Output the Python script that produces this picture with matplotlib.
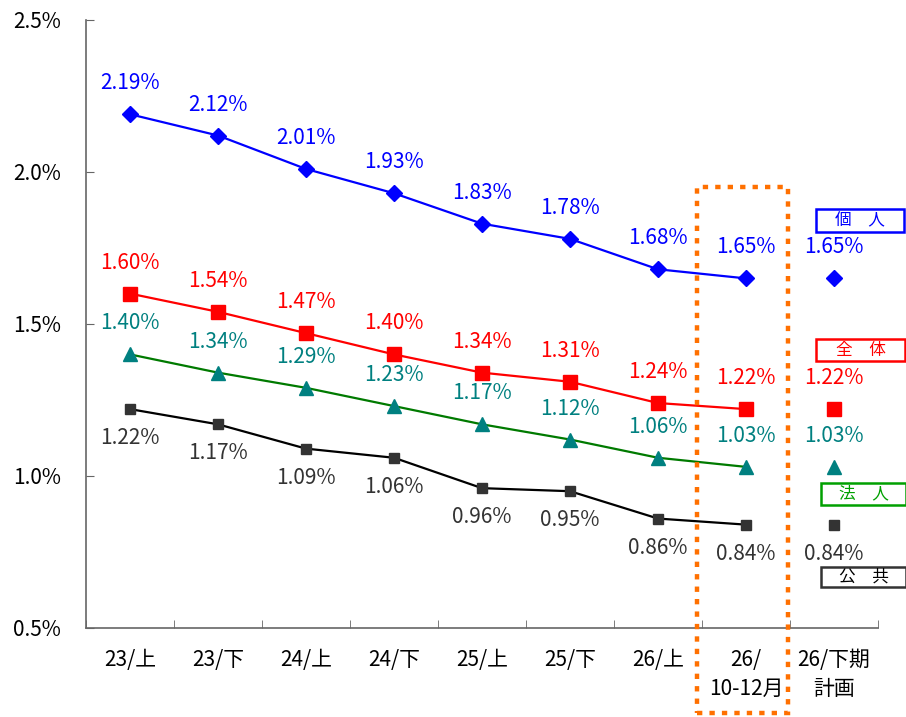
import matplotlib
matplotlib.use("Agg")
import matplotlib.pyplot as plt
from matplotlib.patches import Rectangle
from matplotlib.ticker import FixedLocator

plt.rcParams['font.family'] = ['Noto Sans CJK JP', 'DejaVu Sans']

categories = ["23/上", "23/下", "24/上", "24/下", "25/上", "25/下", "26/上",
              "26/\n10-12月", "26/下期\n計画"]
kojin = [2.19, 2.12, 2.01, 1.93, 1.83, 1.78, 1.68, 1.65]
zentai = [1.60, 1.54, 1.47, 1.40, 1.34, 1.31, 1.24, 1.22]
hojin = [1.40, 1.34, 1.29, 1.23, 1.17, 1.12, 1.06, 1.03]
kokyo = [1.22, 1.17, 1.09, 1.06, 0.96, 0.95, 0.86, 0.84]
plan = {"kojin": 1.65, "zentai": 1.22, "hojin": 1.03, "kokyo": 0.84}
yticks = [0.5, 1.0, 1.5, 2.0, 2.5]

W, H = 906, 717
fig = plt.figure(figsize=(W / 100, H / 100), dpi=100)
ax = fig.add_axes([86 / W, 1 - 628 / H, (878 - 86) / W, (628 - 20) / H])

n = len(categories)
xs = list(range(len(kojin)))
xp = n - 1

series = [
    # values, plan, line color, marker, marker color, size, label color, offset (px)
    (kojin, plan["kojin"], "#0000FF", "D", "#0000FF", 8, "#0000FF", 31),
    (zentai, plan["zentai"], "#FF0000", "s", "#FF0000", 10, "#FF0000", 31),
    (hojin, plan["hojin"], "#007A00", "^", "#008080", 10, "#008080", 31),
    (kokyo, plan["kokyo"], "#000000", "s", "#333333", 6.5, "#333333", -29),
]

for vals, pv, lc, mk, mc, ms, tc, off in series:
    ax.plot(xs, vals, color=lc, lw=1.6, marker=mk, markersize=ms,
            markerfacecolor=mc, markeredgecolor=mc, clip_on=False, zorder=3)
    ax.plot([xp], [pv], linestyle="none", marker=mk, markersize=ms,
            markerfacecolor=mc, markeredgecolor=mc, clip_on=False, zorder=3)
    for x, v in list(zip(xs, vals)) + [(xp, pv)]:
        ax.annotate(f"{v:.2f}%", (x, v), xytext=(0, off * 0.72),
                    textcoords="offset points", ha="center", va="center",
                    color=tc, fontsize=15)

ax.set_xlim(-0.5, n - 0.5)
ax.set_ylim(0.5, 2.5)
ax.set_yticks(yticks)
ax.set_yticklabels([f"{t:.1f}%" for t in yticks], fontsize=15)
ax.set_xticks(range(n))
ax.set_xticklabels(categories, fontsize=15, linespacing=1.4, va="top")
ax.xaxis.set_minor_locator(FixedLocator([i + 0.5 for i in range(-1, n)]))
ax.tick_params(axis="x", which="major", length=0, pad=15)
ax.tick_params(axis="x", which="minor", direction="in", length=6, color="#666666")
ax.tick_params(axis="y", direction="in", length=6, color="#666666", pad=18)
for s in ("top", "right"):
    ax.spines[s].set_visible(False)
for s in ("left", "bottom"):
    ax.spines[s].set_color("#666666")
    ax.spines[s].set_linewidth(1.2)

# Highlight frame around the latest quarter
fig.add_artist(Rectangle((697 / W, 1 - 713 / H), (788 - 697) / W, (713 - 187) / H,
                         transform=fig.transFigure, fill=False,
                         edgecolor="#FF7000", lw=3.2, linestyle=(0, (1.2, 1.6)),
                         capstyle="butt", zorder=5))

# Series name boxes
boxes = [
    ("個　人", "#0000FF", "#0000FF", 816, 209, 904, 232),
    ("全　体", "#FF0000", "#FF0000", 816, 339, 905, 361),
    ("法　人", "#00A000", "#00A000", 821, 483, 906, 505),
    ("公　共", "#333333", "#000000", 821, 567, 906, 587),
]
for txt, ec, tcol, x0, y0, x1, y1 in boxes:
    fig.add_artist(Rectangle((x0 / W, 1 - y1 / H), (x1 - x0) / W, (y1 - y0) / H,
                             transform=fig.transFigure, fill=False,
                             edgecolor=ec, lw=1.8))
    fig.text((x0 + x1) / 2 / W, 1 - (y0 + y1) / 2 / H, txt, ha="center",
             va="center", fontsize=12, color=tcol)

fig.savefig("out.png", dpi=100)
